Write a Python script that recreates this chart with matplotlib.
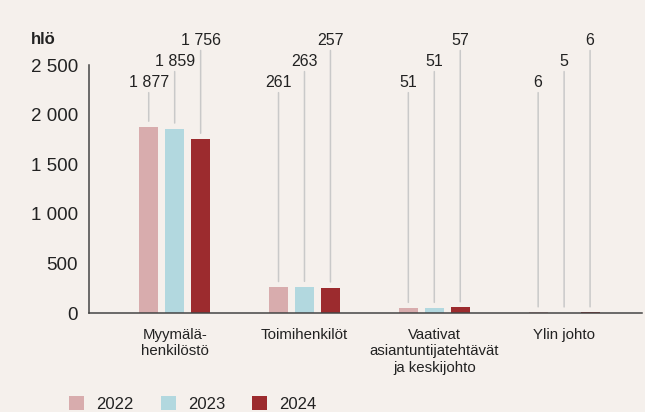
import matplotlib.pyplot as plt
from matplotlib.patches import Patch
from matplotlib.transforms import blended_transform_factory

# data
categories = ["Myymälä-\nhenkilöstö", "Toimihenkilöt", "Vaativat\nasiantuntijatehtävät\nja keskijohto", "Ylin johto"]
years = ["2022", "2023", "2024"]
values_2022 = [1877, 261, 51, 6]
values_2023 = [1859, 263, 51, 5]
values_2024 = [1756, 257, 57, 6]
yticks = [0, 500, 1000, 1500, 2000, 2500]

colors = ["#d8acad", "#b2d8df", "#9c2b2e"]
bg = "#f5f0ec"
line_col = "#c9c9c9"
text_col = "#222222"


def fmt(v):
    return f"{v:,}".replace(",", " ")


plt.rcParams['font.family'] = ['Liberation Sans', 'DejaVu Sans']

fig = plt.figure(figsize=(6.45, 4.12), dpi=100, facecolor=bg)
ax = fig.add_axes([89 / 645, 1 - 313 / 412, 553 / 645, 248 / 412])
ax.set_facecolor(bg)

series = [values_2022, values_2023, values_2024]
bar_w = 0.147
step = 0.2
label_levels = [0.93, 1.015, 1.10]  # axes fraction, staggered per year
trans = blended_transform_factory(ax.transData, ax.transAxes)

for i, vals in enumerate(series):
    xs = [k + (i - 1) * step for k in range(len(categories))]
    ax.bar(xs, vals, width=bar_w, color=colors[i], zorder=2)
    for x, v in zip(xs, vals):
        ax.annotate(fmt(v), xy=(x, v), xycoords='data',
                    xytext=(x, label_levels[i]), textcoords=trans,
                    ha='center', va='center', fontsize=11.5, color=text_col,
                    annotation_clip=False,
                    arrowprops=dict(arrowstyle='-', color=line_col, lw=1.1,
                                    shrinkA=0, shrinkB=4))

ax.set_xlim(-0.66, 3.6)
ax.set_ylim(0, 2500)
ax.set_yticks(yticks)
ax.set_yticklabels([fmt(t) for t in yticks], fontsize=13.5, color=text_col)
ax.tick_params(axis='y', length=0, pad=8)
ax.set_xticks(range(len(categories)))
ax.set_xticklabels(categories, fontsize=10.8, color=text_col, linespacing=1.2,
                   family=['Liberation Sans Narrow', 'Liberation Sans', 'DejaVu Sans'])
ax.tick_params(axis='x', length=0, pad=11)

for s in ['top', 'right']:
    ax.spines[s].set_visible(False)
for s in ['left', 'bottom']:
    ax.spines[s].set_color('#444444')
    ax.spines[s].set_linewidth(1.1)

fig.text(31 / 645, 1 - 40 / 412, "hlö", fontsize=12, fontweight='bold',
         color=text_col, va='center', ha='left')

handles = [Patch(facecolor=c, edgecolor='none') for c in colors]
fig.legend(handles, years, loc='center left', bbox_to_anchor=(69 / 645, 1 - 404 / 412),
           ncol=3, frameon=False, fontsize=12, handlelength=0.9, handleheight=0.9,
           handletextpad=0.75, columnspacing=1.6, borderpad=0, borderaxespad=0,
           labelcolor=text_col)

fig.savefig("out.png", dpi=100, facecolor=bg)
